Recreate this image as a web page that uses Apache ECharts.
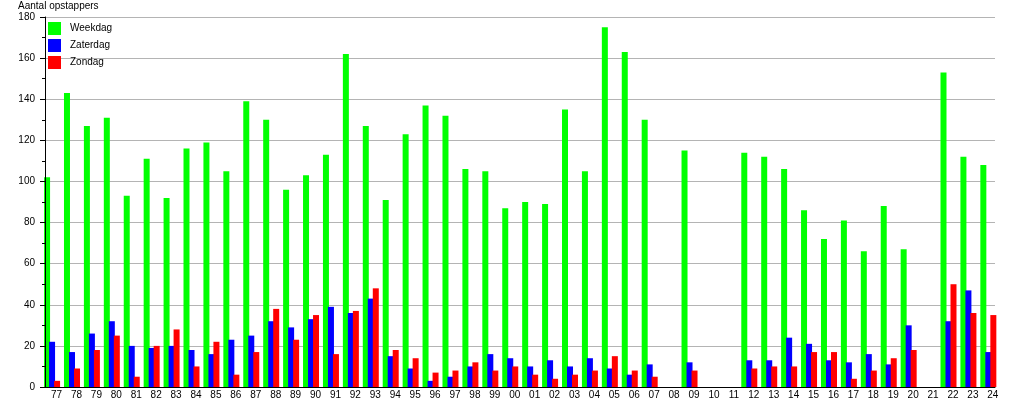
<!DOCTYPE html>
<html><head><meta charset="utf-8">
<script src="https://cdn.jsdelivr.net/npm/echarts@6/dist/echarts.min.js"></script>
<style>html,body{margin:0;padding:0;background:#fff}#c{width:1015px;height:400px}</style>
</head><body><div id="c"></div>
<script>
const categories = ['77','78','79','80','81','82','83','84','85','86','87','88','89','90','91','92','93','94','95','96','97','98','99',
  '00','01','02','03','04','05','06','07','08','09','10','11','12','13','14','15','16','17','18','19','20','21','22','23','24'];
const weekdag = [102,143,127,131,93,111,92,116,119,105,139,130,96,103,113,162,127,91,123,137,132,106,105,
  87,90,89,135,105,175,163,130,null,115,null,null,114,112,106,86,72,81,66,88,67,null,153,112,108];
const zaterdag = [22,17,26,32,20,19,20,18,16,23,25,32,29,33,39,36,43,15,9,3,5,10,16,
  14,10,13,10,14,9,6,11,null,12,null,null,13,13,24,21,13,12,16,11,30,null,32,47,17];
const zondag = [3,9,18,25,5,20,28,10,22,6,17,38,23,35,16,37,48,18,14,7,8,12,8,
  10,6,4,6,8,15,8,5,null,8,null,null,9,10,10,17,17,4,8,14,18,null,50,36,35];
const seriesNames = ['Weekdag','Zaterdag','Zondag'];
const seriesColors = ['#00ff00','#0000ff','#ff0000'];
const yMin = 0, yMax = 180, yInterval = 20;
const yTitle = 'Aantal opstappers';

const FONT = '"Liberation Sans", Arial, sans-serif';
const chart = echarts.init(document.getElementById('c'), null, {renderer:'canvas'});
const seriesData = [weekdag, zaterdag, zondag];
const option = {
  animation: false,
  backgroundColor: '#fff',
  textStyle: {fontFamily: FONT},
  title: {text: yTitle, left: 18, top: 1, padding: 0,
    textStyle: {fontSize: 10, fontWeight: 'normal', color: '#000', fontFamily: FONT}},
  legend: {data: seriesNames, orient: 'vertical', left: 48, top: 22, padding: 0,
    itemWidth: 13, itemHeight: 13, itemGap: 4, icon: 'rect',
    textStyle: {fontSize: 10, color: '#000', fontFamily: FONT, padding: [0,0,0,4]}},
  grid: [
    {left: 42.1, right: 16.7, top: 17, bottom: 13},
    {left: 45, right: 20, top: 17, bottom: 13}
  ],
  xAxis: [
    {type: 'category', gridIndex: 0, data: categories, position: 'bottom',
      axisLine: {show: false}, axisTick: {show: false}, splitLine: {show: false},
      axisLabel: {fontSize: 10, color: '#000', fontFamily: FONT, margin: 3, padding: [0,0,0,9], interval: 0}},
    {type: 'value', gridIndex: 1, min: 0, max: 1, z: 5, position: 'bottom',
      axisLine: {show: true, lineStyle: {color: '#000', width: 1}},
      axisTick: {show: false}, axisLabel: {show: false}, splitLine: {show: false}}
  ],
  yAxis: [
    {type: 'value', gridIndex: 0, min: yMin, max: yMax, show: false, position: 'left'},
    {type: 'value', gridIndex: 1, min: yMin, max: yMax, interval: yInterval, z: 0, position: 'left', offset: 0,
      axisLine: {show: false}, axisTick: {show: false}, axisLabel: {show: false},
      splitLine: {show: true, lineStyle: {color: '#b4b4b4', width: 1}}},
    {type: 'value', gridIndex: 1, min: yMin, max: yMax, interval: yInterval, z: 5, position: 'left', offset: 0,
      axisLine: {show: true, onZero: false, lineStyle: {color: '#000', width: 1}},
      axisTick: {show: true, length: 5, lineStyle: {color: '#000'}},
      minorTick: {show: true, splitNumber: 2, length: 3, lineStyle: {color: '#000'}},
      axisLabel: {fontSize: 10, color: '#000', fontFamily: FONT, margin: 10},
      splitLine: {show: false}}
  ],
  series: seriesNames.map((n, i) => ({
    name: n, type: 'bar', xAxisIndex: 0, yAxisIndex: 0,
    data: seriesData[i], barWidth: 6, barGap: '-16.67%',
    itemStyle: {color: seriesColors[i]}
  }))
};
chart.setOption(option);
</script></body></html>
